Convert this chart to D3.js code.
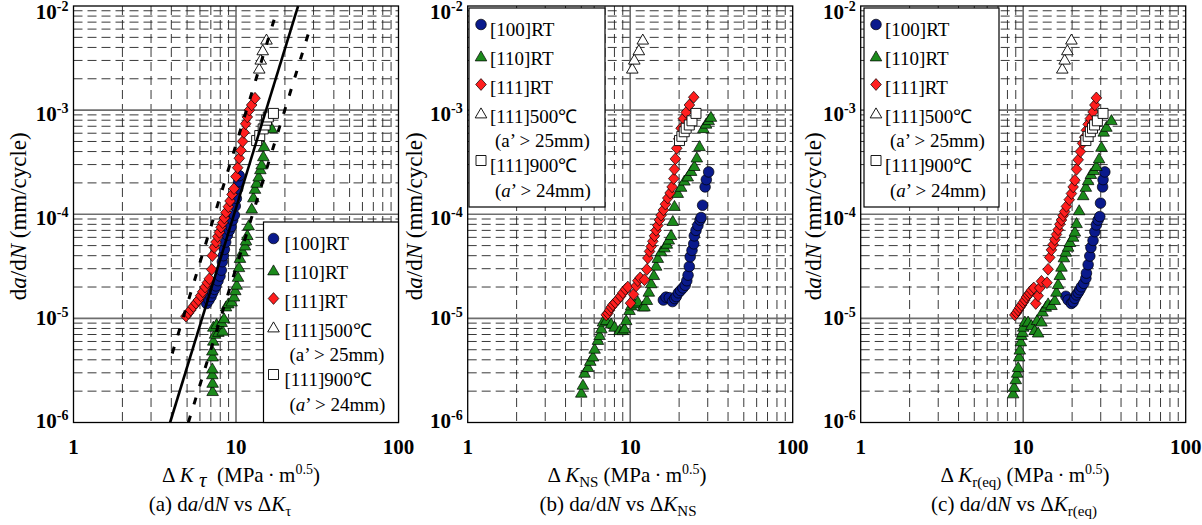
<!DOCTYPE html>
<html><head><meta charset="utf-8">
<script src="https://cdn.jsdelivr.net/npm/d3@7"></script>
<style>
body{margin:0;background:#fff}
svg{display:block}
text{font-family:"Liberation Serif","Times New Roman",serif;fill:#000}
</style></head>
<body><svg id="chart" width="1202" height="525"></svg>
<script>
// ---------- data ----------
const xTickValues = [1, 10, 100];
const xTickLabels = ["1", "10", "100"];
const yTickValues = [1e-6, 1e-5, 1e-4, 1e-3, 1e-2];
const yTickExps = ["-6", "-5", "-4", "-3", "-2"];
const legendLabels = ["[100]RT", "[110]RT", "[111]RT", "[111]500\u2103", "[111]900\u2103"];
const legendNotes = ["(a\u2019 > 25mm)", "(a\u2019 > 24mm)"];

// (a) da/dN vs dK_tau
const a100 = [[6.6,1.39e-5],[6.82,1.5e-5],[7.02,1.62e-5],[7.18,1.76e-5],[7.36,1.9e-5],[7.53,2.05e-5],[7.75,2.3e-5],[7.97,2.55e-5],[8.12,2.9e-5],[8.24,3.5e-5],[8.36,4.0e-5],[8.48,4.6e-5],[8.64,5.4e-5],[8.85,6.3e-5],[9.1,7.0e-5],[9.32,7.6e-5],[9.54,8.8e-5],[9.77,9.8e-5],[9.9,1.2e-4],[10.05,1.42e-4],[10.24,1.76e-4],[10.38,2.05e-4],[10.48,2.35e-4]];
const a110 = [[7.18,2.0e-6],[7.18,2.4e-6],[7.15,2.9e-6],[7.15,3.3e-6],[7.18,4.3e-6],[7.15,4.9e-6],[7.25,6.1e-6],[7.43,7.1e-6],[7.79,7.4e-6],[8.28,7.6e-6],[7.25,8.3e-6],[7.6,8.8e-6],[8.16,9.2e-6],[8.44,1.0e-5],[8.68,1.3e-5],[8.97,1.39e-5],[9.4,1.45e-5],[9.72,1.62e-5],[9.9,1.86e-5],[10.1,2.1e-5],[10.29,2.5e-5],[10.43,3.1e-5],[10.58,3.8e-5],[10.99,4.4e-5],[11.36,5.0e-5],[11.52,5.6e-5],[11.74,6.3e-5],[11.96,7.8e-5],[12.49,1.13e-4],[12.79,1.45e-4],[13.09,1.75e-4],[13.4,2.0e-4],[13.79,2.3e-4],[14.12,2.7e-4],[14.39,3.0e-4],[14.73,3.6e-4],[14.87,4.5e-4],[16.58,6.7e-4]];
const a111 = [[4.92,1.05e-5],[5.09,1.12e-5],[5.26,1.2e-5],[5.46,1.3e-5],[5.67,1.4e-5],[5.87,1.5e-5],[6.06,1.65e-5],[6.24,1.8e-5],[6.45,2.0e-5],[6.66,2.2e-5],[6.85,2.4e-5],[7.09,2.95e-5],[7.15,4.0e-5],[7.36,4.8e-5],[7.53,5.4e-5],[7.71,6.1e-5],[7.9,6.7e-5],[8.09,7.5e-5],[8.28,8.3e-5],[8.48,9.2e-5],[8.68,1.04e-4],[8.97,1.18e-4],[9.19,1.34e-4],[9.45,1.55e-4],[9.72,1.76e-4],[10.0,2.3e-4],[10.24,2.8e-4],[10.48,3.45e-4],[10.73,4.1e-4],[10.99,5.0e-4],[11.2,6.1e-4],[11.47,7.4e-4],[11.74,8.6e-4],[12.08,1.0e-3],[12.49,1.12e-3],[13.09,1.3e-3]];
const a500 = [[13.9,2.5e-3],[14.2,3.05e-3],[14.6,3.75e-3],[15.4,4.75e-3]];
const a900 = [[13.4,5.1e-4],[14.0,5.7e-4],[14.7,6.6e-4],[15.1,7.2e-4],[15.4,8.0e-4],[15.8,8.6e-4],[17.0,9.3e-4]];
const fitMean = [[3.93,1e-6],[24.1,1e-2]];
const fitUpper = [[4.05,4.6e-6],[17.8,8.9e-3]];
const fitLower = [[5.09,1e-6],[28.9,6.5e-3]];

// (b) da/dN vs dK_NS
const b100 = [[16.0,1.5e-5],[16.6,1.6e-5],[17.4,1.58e-5],[18.2,1.45e-5],[18.8,1.55e-5],[19.2,1.62e-5],[19.8,1.76e-5],[20.4,1.85e-5],[21.1,1.96e-5],[21.8,2.08e-5],[22.3,2.3e-5],[22.7,2.6e-5],[23.1,3.15e-5],[23.4,3.9e-5],[24.0,4.5e-5],[24.6,5.2e-5],[24.8,6.2e-5],[25.4,7.0e-5],[26.1,7.8e-5],[26.9,8.8e-5],[27.3,9.3e-5],[27.9,1.22e-4],[28.9,1.83e-4],[29.4,2.15e-4],[30.4,2.55e-4]];
const b110 = [[5.0,1.93e-6],[5.12,2.3e-6],[5.24,3.0e-6],[5.5,3.4e-6],[5.68,3.9e-6],[5.9,4.3e-6],[6.04,5.1e-6],[6.33,6.2e-6],[6.48,6.9e-6],[6.64,8.0e-6],[6.8,9.3e-6],[7.12,9.6e-6],[7.64,8.9e-6],[8.01,8.3e-6],[8.6,7.7e-6],[9.01,7.7e-6],[9.23,8.0e-6],[9.45,9.6e-6],[9.9,1.2e-5],[10.14,1.33e-5],[10.63,1.39e-5],[11.14,1.45e-5],[11.96,1.3e-5],[12.24,1.3e-5],[12.66,1.5e-5],[13.02,1.8e-5],[13.46,2.17e-5],[13.98,2.6e-5],[14.44,3.2e-5],[14.79,3.8e-5],[15.5,4.4e-5],[16.25,4.8e-5],[16.8,5.2e-5],[17.28,5.7e-5],[17.85,6.3e-5],[18.28,8.6e-5],[18.72,1.2e-4],[19.62,1.6e-4],[20.57,1.83e-4],[21.56,2.1e-4],[22.6,2.3e-4],[23.7,2.6e-4],[24.8,2.9e-4],[25.7,3.5e-4],[26.7,4.5e-4],[28.2,6.7e-4],[29.3,7.4e-4],[30.4,8.0e-4],[31.4,8.6e-4]];
const b111 = [[7.12,1.08e-5],[7.29,1.12e-5],[7.47,1.2e-5],[7.64,1.28e-5],[7.83,1.35e-5],[8.09,1.42e-5],[8.40,1.52e-5],[8.72,1.63e-5],[9.01,1.76e-5],[9.36,1.9e-5],[9.67,2.0e-5],[10.05,1.4e-5],[10.48,1.7e-5],[10.88,2.05e-5],[11.14,2.3e-5],[11.52,2.45e-5],[12.24,2.35e-5],[12.66,2.95e-5],[12.84,3.8e-5],[13.15,4.4e-5],[13.46,4.9e-5],[13.78,5.5e-5],[14.11,6.2e-5],[14.44,7.0e-5],[14.79,7.8e-5],[15.14,8.8e-5],[15.5,9.8e-5],[16.02,1.1e-4],[16.48,1.25e-4],[17.03,1.43e-4],[17.6,1.6e-4],[18.11,1.83e-4],[18.54,2.2e-4],[18.72,2.7e-4],[18.98,3.4e-4],[19.34,4.3e-4],[19.9,5.3e-4],[20.57,6.7e-4],[21.26,8.3e-4],[22.08,9.5e-4],[23.14,1.12e-3],[24.6,1.33e-3]];
const b500 = [[10.3,2.5e-3],[10.6,3.05e-3],[11.3,3.75e-3],[11.95,4.75e-3]];
const b900 = [[20.1,5.1e-4],[20.8,5.6e-4],[21.5,6.2e-4],[22.1,6.7e-4],[23.1,7.2e-4],[24.0,7.9e-4],[25.4,9.3e-4]];

// (c) da/dN vs dK_r(eq)
const c100 = [[18.3,1.63e-5],[18.9,1.5e-5],[19.8,1.39e-5],[20.3,1.44e-5],[20.8,1.56e-5],[21.3,1.68e-5],[21.8,1.77e-5],[22.3,1.88e-5],[22.8,2.01e-5],[23.6,2.17e-5],[24.3,2.43e-5],[24.5,2.72e-5],[25.1,3.28e-5],[25.7,3.97e-5],[26.1,4.8e-5],[26.9,5.6e-5],[27.6,6.8e-5],[28.2,7.9e-5],[28.9,8.8e-5],[29.6,9.5e-5],[29.9,1.28e-4],[30.8,1.83e-4],[31.0,2.15e-4],[31.8,2.55e-4]];
const c110 = [[8.67,1.9e-6],[8.79,2.2e-6],[9.0,2.6e-6],[9.18,3.0e-6],[9.31,3.4e-6],[9.44,4.3e-6],[9.53,5.0e-6],[9.67,6.0e-6],[9.76,6.9e-6],[9.9,7.4e-6],[10.0,8.3e-6],[10.24,9.3e-6],[10.72,9.3e-6],[11.24,8.6e-6],[11.78,7.7e-6],[12.36,7.3e-6],[12.18,9.6e-6],[12.95,9.3e-6],[13.14,1.16e-5],[13.77,1.29e-5],[14.23,1.39e-5],[14.92,1.34e-5],[15.65,1.5e-5],[16.02,1.8e-5],[16.4,2.13e-5],[16.8,2.6e-5],[17.2,3.13e-5],[17.8,3.85e-5],[18.3,4.36e-5],[18.9,4.87e-5],[19.4,5.4e-5],[20.3,6.07e-5],[20.8,6.8e-5],[21.3,8.2e-5],[22.1,1.09e-4],[23.4,1.52e-4],[24.3,1.83e-4],[25.1,2.12e-4],[26.1,2.43e-4],[27.2,2.65e-4],[28.2,2.9e-4],[29.3,3.43e-4],[30.3,4.43e-4],[31.3,6.2e-4],[32.5,6.9e-4],[34.9,8.0e-4]];
const c111 = [[8.88,1.08e-5],[9.09,1.13e-5],[9.31,1.2e-5],[9.53,1.27e-5],[9.76,1.34e-5],[10.0,1.42e-5],[10.24,1.5e-5],[10.47,1.6e-5],[10.72,1.68e-5],[10.98,1.75e-5],[11.24,1.86e-5],[11.62,1.96e-5],[11.95,1.39e-5],[12.36,1.65e-5],[12.65,1.96e-5],[12.95,2.27e-5],[14.0,2.2e-5],[14.23,2.96e-5],[14.57,3.85e-5],[14.92,4.55e-5],[15.28,5.1e-5],[15.65,5.7e-5],[16.02,6.4e-5],[16.4,7.1e-5],[16.8,8.0e-5],[17.2,8.8e-5],[17.6,9.7e-5],[18.0,1.06e-4],[18.46,1.19e-4],[19.2,1.38e-4],[19.8,1.58e-4],[20.3,1.83e-4],[20.8,2.12e-4],[21.3,2.7e-4],[21.8,3.33e-4],[22.5,4.0e-4],[23.2,4.8e-4],[23.9,5.5e-4],[24.5,6.4e-4],[25.1,7.3e-4],[25.9,8.3e-4],[26.9,9.6e-4],[27.6,1.12e-3],[28.2,1.31e-3]];
const c500 = [[17.4,2.5e-3],[18.0,3.05e-3],[18.7,3.75e-3],[19.8,4.75e-3]];
const c900 = [[24.3,5.1e-4],[25.1,5.6e-4],[25.9,6.2e-4],[26.7,6.7e-4],[27.5,7.2e-4],[28.6,7.9e-4],[31.0,9.3e-4]];

// ---------- drawing ----------
const svg = d3.select("#chart");
const colors = ["#0a1a8c", "#1b8a1b", "#ff1e1e", "#ffffff", "#ffffff"];
const shapes = [
  null,
  "M0,-5.6L5.8,4.4L-5.8,4.4Z",
  "M0,-5.9L5.3,0L0,5.9L-5.3,0Z",
  "M0,-5.6L5.8,4.4L-5.8,4.4Z",
  "M-5,-5H5V5H-5Z"
];
const circlePath = d3.symbol().type(d3.symbolCircle).size(Math.PI * 5.3 * 5.3)();
function markerPath(i) { return i === 0 ? circlePath : shapes[i]; }

const yScale = d3.scaleLog().domain([1e-6, 1e-2]).range([422.5, 6]);

function drawPanel(p) {
  const x = d3.scaleLog().domain([1, 100]).range([p.x0, p.x0 + 325]);
  const y = yScale;
  const g = svg.append("g");
  const [X0, X1] = x.range();
  const [Y1, Y0] = y.range();
  const clipId = "clip" + p.id;
  svg.append("clipPath").attr("id", clipId).append("rect")
    .attr("x", X0).attr("y", Y0).attr("width", X1 - X0).attr("height", Y1 - Y0);

  // minor grid
  const minorX = [], minorY = [];
  for (let e = 0; e < 2; e++) for (let k = 2; k <= 9; k++) minorX.push(k * Math.pow(10, e));
  for (let e = -6; e < -2; e++) for (let k = 2; k <= 9; k++) minorY.push(k * Math.pow(10, e));
  g.selectAll(".mx").data(minorX).enter().append("line")
    .attr("x1", d => x(d)).attr("x2", d => x(d)).attr("y1", Y0).attr("y2", Y1)
    .attr("stroke", "#222").attr("stroke-width", 0.9).attr("stroke-dasharray", "9,5");
  g.selectAll(".my").data(minorY).enter().append("line")
    .attr("x1", X0).attr("x2", X1).attr("y1", d => y(d)).attr("y2", d => y(d))
    .attr("stroke", "#222").attr("stroke-width", 0.9).attr("stroke-dasharray", "9,5");
  // major grid
  g.append("line").attr("x1", x(10)).attr("x2", x(10)).attr("y1", Y0).attr("y2", Y1)
    .attr("stroke", "#6e6e6e").attr("stroke-width", 1.6);
  g.selectAll(".My").data([1e-5, 1e-4, 1e-3]).enter().append("line")
    .attr("x1", X0).attr("x2", X1).attr("y1", d => y(d)).attr("y2", d => y(d))
    .attr("stroke", "#6e6e6e").attr("stroke-width", 1.6);

  // data
  const dg = g.append("g").attr("clip-path", `url(#${clipId})`);
  p.series.forEach((s, i) => {
    dg.selectAll(null).data(s).enter().append("path")
      .attr("d", markerPath(i))
      .attr("transform", d => `translate(${x(d[0])},${y(d[1])})`)
      .attr("fill", colors[i]).attr("stroke", "#000").attr("stroke-width", i >= 3 ? 0.9 : 0.7);
  });
  if (p.fits) {
    const line = d3.line().x(d => x(d[0])).y(d => y(d[1]));
    dg.append("path").attr("d", line(p.fits.mean)).attr("fill", "none").attr("stroke", "#000").attr("stroke-width", 2.6);
    [p.fits.upper, p.fits.lower].forEach(f => {
      dg.append("path").attr("d", line(f)).attr("fill", "none").attr("stroke", "#000")
        .attr("stroke-width", 3).attr("stroke-dasharray", "7,12");
    });
  }

  // frame
  g.append("rect").attr("x", X0).attr("y", Y0).attr("width", X1 - X0).attr("height", Y1 - Y0)
    .attr("fill", "none").attr("stroke", "#000").attr("stroke-width", 1.3);

  // x tick labels
  xTickValues.forEach((v, i) => {
    g.append("text").attr("x", x(v)).attr("y", 454).attr("text-anchor", "middle")
      .attr("font-size", 21).attr("font-weight", "bold").text(xTickLabels[i]);
  });
  // y tick labels
  yTickValues.forEach((v, i) => {
    const t = g.append("text").attr("x", X0 - 5).attr("y", y(v) + p.yLabOff[i])
      .attr("text-anchor", "end").attr("font-size", 21).attr("font-weight", "bold");
    t.append("tspan").text("10");
    t.append("tspan").attr("font-size", 14).attr("dy", -8).text(yTickExps[i]);
  });

  // y title
  const yt = g.append("text").attr("transform", `translate(${p.yTitleX},${(Y0 + Y1) / 2 + 2}) rotate(-90)`)
    .attr("text-anchor", "middle").attr("font-size", 23);
  yt.append("tspan").text("d");
  yt.append("tspan").attr("font-style", "italic").text("a");
  yt.append("tspan").text("/d");
  yt.append("tspan").attr("font-style", "italic").text("N");
  yt.append("tspan").text(" (mm/cycle)");

  // x title
  const xt = g.append("text").attr("x", p.xTitleX).attr("y", 482).attr("text-anchor", "middle").attr("font-size", 21);
  xt.append("tspan").text("\u0394 ");
  xt.append("tspan").attr("font-style", "italic").text("K");
  if (p.id === "a") {
    xt.append("tspan").text(" ");
    xt.append("tspan").attr("font-style", "italic").attr("dy", 5).text("\u03c4");
    xt.append("tspan").attr("dy", -5).text("\u2002(MPa\u2009\u00b7\u2009m");
  } else {
    xt.append("tspan").attr("font-size", 15).attr("dy", 5).text(p.sub);
    xt.append("tspan").attr("dy", -5).text(" (MPa\u2009\u00b7\u2009m");
  }
  xt.append("tspan").attr("font-size", 14).attr("dy", -8).text("0.5");
  xt.append("tspan").attr("dy", 8).text(")");

  // caption
  const ct = g.append("text").attr("x", p.capX).attr("y", 511).attr("text-anchor", "middle").attr("font-size", 21);
  ct.append("tspan").text(`(${p.id}) d`);
  ct.append("tspan").attr("font-style", "italic").text("a");
  ct.append("tspan").text("/d");
  ct.append("tspan").attr("font-style", "italic").text("N");
  ct.append("tspan").text(" vs \u0394");
  ct.append("tspan").attr("font-style", "italic").text("K");
  ct.append("tspan").attr("font-size", 15).attr("dy", 5).text(p.id === "a" ? "\u03c4" : p.sub);

  // legend
  const L = p.legend;
  const lg = g.append("g").attr("transform", `translate(${L.x},${L.y})`);
  lg.append("rect").attr("width", L.w).attr("height", L.h).attr("fill", "#fff")
    .attr("stroke", "#000").attr("stroke-width", 1.2);
  const markerY = [16.5, 48.5, 76.5, 105.5, 152.5];
  const rowsY = [28, 57, 86, 115, 164];
  legendLabels.forEach((lab, i) => {
    lg.append("path").attr("d", markerPath(i)).attr("transform", `translate(${L.mx},${markerY[i]})`)
      .attr("fill", colors[i]).attr("stroke", "#000").attr("stroke-width", i >= 3 ? 0.9 : 0.7);
    lg.append("text").attr("x", L.tx).attr("y", rowsY[i]).attr("font-size", 19).text(lab);
  });
  const n1 = lg.append("text").attr("x", L.tx + 5).attr("y", 139).attr("font-size", 19);
  n1.text(legendNotes[0]);
  const n2 = lg.append("text").attr("x", L.tx + 5).attr("y", 189).attr("font-size", 19);
  n2.append("tspan").text("(");
  n2.append("tspan").attr("font-style", "italic").text("a");
  n2.append("tspan").text(legendNotes[1].slice(2));
}

drawPanel({ id: "a", x0: 73.5, series: [a100, a110, a111, a500, a900],
  fits: { mean: fitMean, upper: fitUpper, lower: fitLower },
  yLabOff: [5, 7, 11, 11, 13], yTitleX: 26, xTitleX: 241, capX: 220,
  legend: { x: 263.5, y: 222, w: 135, h: 200.5, mx: 10, tx: 21 } });
drawPanel({ id: "b", x0: 467.7, series: [b100, b110, b111, b500, b900], sub: "NS",
  yLabOff: [5, 7, 11, 11, 13], yTitleX: 422, xTitleX: 627, capX: 618,
  legend: { x: 469, y: 8, w: 136, h: 199, mx: 12, tx: 21 } });
drawPanel({ id: "c", x0: 860.7, series: [c100, c110, c111, c500, c900], sub: "r(eq)",
  yLabOff: [5, 7, 11, 11, 13], yTitleX: 821, xTitleX: 1025, capX: 1014,
  legend: { x: 864, y: 8, w: 135, h: 199, mx: 12, tx: 21 } });
</script>
</body></html>
